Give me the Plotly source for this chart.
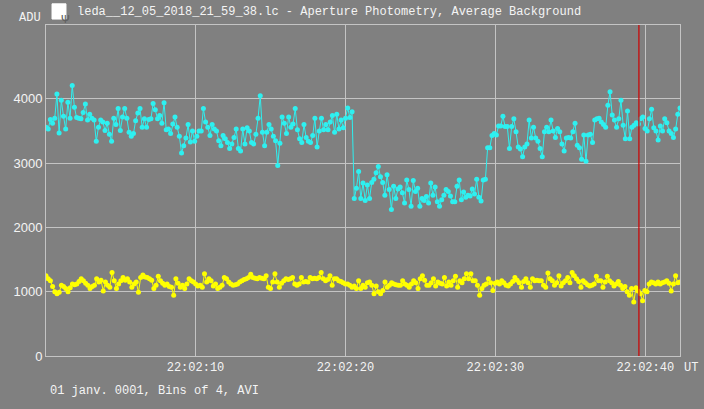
import numpy as np
import pandas as pd
import plotly.graph_objects as go

# ---------------- data ----------------
title_text = "leda__12_05_2018_21_59_38.lc - Aperture Photometry, Average Background"
footer_text = "01 janv. 0001, Bins of 4, AVI"
y_unit = "ADU"
x_unit = "UT"

t_start = "2018-05-12 22:02:00.03"
t_end = "2018-05-12 22:02:42.31"
cursor_time = "2018-05-12 22:02:39.57"

y_ticks = [0, 1000, 2000, 3000, 4000]
y_max = 5150

# target star (cyan)
target_adu = [
    3560, 3530, 3680, 3620, 3700, 4075, 3470, 3980, 3730, 3530, 3950, 3700, 4210, 3870, 3710, 3700,
    3690, 3790, 3920, 3670, 3760, 3700, 3670, 3340, 3560, 3670, 3640, 3510, 3620, 3450, 3340, 3700,
    3600, 3850, 3510, 3720, 3850, 3700, 3480, 3420, 3460, 3660, 3780, 3850, 3560, 3690, 3560, 3680,
    3690, 3930, 3830, 3690, 3740, 3620, 3940, 3520, 3530, 3460, 3610, 3720, 3560, 3420, 3160, 3270,
    3390, 3600, 3330, 3500, 3340, 3420, 3500,
    3500, 3850, 3640, 3560, 3430, 3600, 3530, 3500, 3350, 3270, 3430, 3380, 3320, 3230, 3300, 3400,
    3530, 3230, 3190, 3530, 3300, 3550, 3500, 3320, 3300, 3450, 3700, 4050, 3480, 3270, 3480, 3600,
    3530, 3420, 3350, 2965, 3310, 3720, 3620, 3460, 3720, 3560, 3610, 3850, 3520, 3380, 3320, 3600,
    3400, 3340, 3320, 3430, 3700, 3250, 3500, 3700, 3520, 3600, 3520, 3640, 3740, 3480, 3760, 3530,
    3670, 3550, 3700, 3860, 3710, 3800,
    2450, 2610, 2870, 2450, 2690, 2420, 2660, 2450, 2700, 2750, 2850, 2950, 2790, 2700, 2500, 2820,
    2590, 2280, 2640, 2450, 2600, 2630, 2540, 2380, 2740, 2590, 2330, 2730, 2560, 2610, 2330, 2450,
    2420, 2480, 2380, 2690, 2500, 2630, 2400, 2330, 2430, 2500, 2590, 2560, 2490, 2400, 2400, 2640,
    2740, 2430, 2550, 2470, 2500, 2490, 2600, 2520, 2750, 2470, 2410, 2740, 2750, 3240, 3240, 3430,
    3460,
    3440, 3580, 3580, 3730, 3570, 3570, 3230, 3570, 3690, 3490, 3250, 3220, 3100, 3250, 3300, 3670,
    3390, 3560, 3390, 3340, 3230, 3100, 3490, 3560, 3490, 3670, 3500, 3400, 3540, 3490, 3300, 3190,
    3390, 3400, 3390, 3490, 3620, 3280, 3240, 3060, 3440, 3030, 3440, 3450, 3320, 3670, 3690, 3700,
    3640, 3600, 3560, 3900, 4110, 3750, 3670, 3560, 3690, 3980, 3590, 3380, 3810, 3380, 3560, 3590,
    3630, 3610, 3690, 3720, 3540, 3500, 3690, 3840, 3550, 3500, 3360, 3580, 3500, 3690, 3630, 3500,
    3460, 3400, 3530, 3760, 3860,
]

# comparison / background (yellow)
comparison_adu = [
    1250, 1200, 1170, 1080, 1000, 970, 990, 1100, 1080, 1050, 1000, 1060,
    1120, 1110, 1120, 1160, 1200, 1170, 1130, 1100, 1050, 1080, 1100, 1200,
    1150, 1180, 1010, 1150, 1100, 1070, 1300, 1170, 1050, 1120, 1170, 1220,
    1180, 1200, 1150, 1070, 1120, 1150, 990, 1220, 1260, 1230, 1220, 1200,
    1180, 1050, 1100, 1240, 1170, 1130, 1100, 1120, 1080, 1070, 944, 1200,
    1130, 1070, 1100, 1050, 1120, 1200, 1170, 1150, 1120, 1090, 1100, 1070,
    1280, 1150, 1200, 1170, 1090, 1120, 1050, 1070, 1100, 1220, 1200, 1150,
    1120, 1100, 1110, 1120, 1150, 1170, 1190, 1200, 1220, 1270, 1220, 1210,
    1200, 1220, 1210, 1200, 1250, 1070, 1050, 1150, 1280, 1150, 1070, 1130,
    1170, 1200, 1190, 1200, 1220, 1120, 1100, 1120, 1220, 1150, 1160, 1150,
    1220, 1200, 1210, 1200, 1220, 1300, 1200, 1170, 1190, 1250, 1100, 1200,
    1200, 1170, 1160, 1140, 1120, 1120, 1100, 1070, 1090, 1050, 1170, 1050,
    1100, 1070, 1140, 1150, 1100, 970, 1090, 1000, 970, 1020, 1150, 1070,
    1100, 1140, 1120, 1110, 1100, 1100, 1170, 1120, 1100, 1070, 1120, 1170,
    1140, 1050, 1200, 1250, 1180, 1100, 1100, 1140, 1200, 1090, 1150, 1130,
    1120, 1220, 1090, 1150, 1100, 1170, 1240, 1070, 1170, 1140, 1200, 1280,
    1200, 1280, 1170, 1170, 1100, 944, 1050, 1100, 1120, 1200, 1140, 1020,
    1130, 1150, 1120, 1170, 1140, 1100,
    1090, 1120, 1160, 1220, 1180, 1140, 1070, 1160, 1200, 1140, 1070, 1200,
    1170, 1180, 1170, 1170, 1100, 1070, 1290, 1200, 1170, 1100, 1140, 1250,
    1090, 1140, 1170, 1220, 1140, 1300, 1250, 1200, 1160, 1070, 1170, 1140,
    1110, 1090, 1100, 1120, 1240, 1170, 1170, 1070, 1150, 1240, 1170, 1140,
    1090, 1120, 1160, 1100,
    1050, 1080, 1000, 944, 1050, 840, 1060, 1010, 970, 860, 1020,
    1000, 1120, 1150, 1140, 1120, 1150, 1120, 1140, 1150, 1170, 1130, 1010, 1120, 1250, 1140, 1150,
]


def times_for(n):
    t0 = pd.Timestamp(t_start)
    span = (pd.Timestamp(t_end) - t0).total_seconds()
    return t0 + pd.to_timedelta(np.linspace(0, span, n), unit="s")


t_target = times_for(len(target_adu))
t_comp = times_for(len(comparison_adu))

# ---------------- style ----------------
BG = "#808080"
GRID = "#c4c4c4"
TXT = "#f4f4f4"
MONO = "Liberation Mono, Courier New, monospace"
SANS = "Liberation Sans, Arial, sans-serif"

fig = go.Figure()
fig.add_trace(go.Scatter(
    x=t_comp, y=comparison_adu, mode="lines+markers",
    line=dict(color="#ffff00", width=1),
    marker=dict(color="#ffff00", size=5),
    showlegend=False, hoverinfo="skip",
))
fig.add_trace(go.Scatter(
    x=t_target, y=target_adu, mode="lines+markers",
    line=dict(color="#2ef0f0", width=1),
    marker=dict(color="#2ef0f0", size=5),
    showlegend=False, hoverinfo="skip",
))

fig.add_shape(type="line", xref="x", yref="paper", x0=cursor_time, x1=cursor_time,
              y0=0, y1=1, line=dict(color="#cc0000", width=1.2))

# icon
fig.add_shape(type="rect", xref="paper", yref="paper", x0=0.0095, x1=0.0315, y0=1.018, y1=1.064,
              line=dict(color="#ffffff", width=1), fillcolor="#ffffff")
fig.add_annotation(xref="paper", yref="paper", x=0.0205, y=1.041, text="Ψ", showarrow=False,
                   font=dict(family="DejaVu Sans", size=11, color="#606060"))

fig.add_annotation(xref="paper", yref="paper", x=0.0457, y=1.039, xanchor="left", yanchor="middle",
                   text=title_text, showarrow=False, font=dict(family=MONO, size=12, color=TXT))
fig.add_annotation(xref="paper", yref="paper", x=-0.004, y=1.021, xanchor="right", yanchor="middle",
                   text=y_unit, showarrow=False, font=dict(family=MONO, size=12, color=TXT))
fig.add_annotation(xref="paper", yref="paper", x=1.003, y=-0.036, xanchor="left", yanchor="middle",
                   text=x_unit, showarrow=False, font=dict(family=MONO, size=12, color=TXT))
fig.add_annotation(xref="paper", yref="paper", x=0.003, y=-0.106, xanchor="left", yanchor="middle",
                   text=footer_text, showarrow=False, font=dict(family=MONO, size=12, color=TXT))

fig.update_layout(
    width=704, height=409,
    margin=dict(l=46, r=24, t=25, b=53),
    paper_bgcolor=BG, plot_bgcolor=BG,
    showlegend=False,
    xaxis=dict(
        type="date", range=[t_start, t_end],
        tick0="2018-05-12 22:02:00", dtick=10000, tickformat="%H:%M:%S",
        showgrid=True, gridcolor=GRID, gridwidth=1,
        showline=True, linecolor=GRID, linewidth=1, mirror=True,
        ticks="", zeroline=False,
        tickfont=dict(family=MONO, size=12, color=TXT),
    ),
    yaxis=dict(
        range=[0, y_max], tickvals=y_ticks, ticktext=[str(v) for v in y_ticks],
        showgrid=True, gridcolor=GRID, gridwidth=1,
        showline=True, linecolor=GRID, linewidth=1, mirror=True,
        ticks="", zeroline=False,
        tickfont=dict(family=SANS, size=13, color=TXT),
    ),
)

fig.write_html(
    "out.html",
    config={"displayModeBar": False},
    post_script="document.body.style.margin='0';document.body.style.padding='0';"
                "document.body.style.background='#808080';document.body.style.overflow='hidden';",
)
